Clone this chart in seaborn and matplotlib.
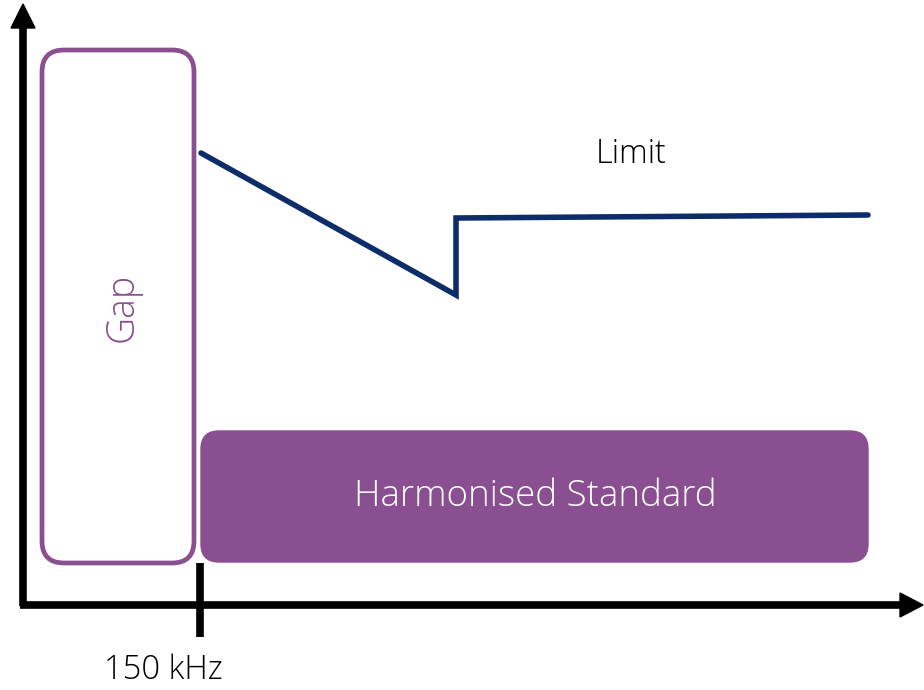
import matplotlib
matplotlib.use("Agg")
import matplotlib.pyplot as plt
from matplotlib.patches import FancyBboxPatch
import seaborn as sns
import pandas as pd

# Data (diagram units: x = frequency position, y = level, top = 0)
limit_x = [201, 456, 456, 868]
limit_y = [153, 295, 218, 215]
tick_label = "150 kHz"
tick_pos = 200
gap_label = "Gap"
std_label = "Harmonised Standard"
limit_label = "Limit"

PURPLE = "#8A4F91"
NAVY = "#0C2C6A"

sns.set_theme(style="white")
plt.rcParams["font.family"] = ["Open Sans", "DejaVu Sans"]

fig = plt.figure(figsize=(9.24, 6.9), dpi=100)
ax = fig.add_axes([0, 0, 1, 1])

# Limit line
df = pd.DataFrame({"x": limit_x, "y": limit_y})
sns.lineplot(data=df, x="x", y="y", sort=False, estimator=None, errorbar=None,
             color=NAVY, lw=4, ax=ax, zorder=4)
ax.lines[-1].set_solid_joinstyle("miter")
ax.axis("off")
ax.set_xlim(0, 924)
ax.set_ylim(690, 0)

# Gap box
ax.add_patch(FancyBboxPatch((42 + 22, 50 + 22), 152 - 44, 513 - 44,
                            boxstyle="round,pad=22", fc="white", ec=PURPLE, lw=3.4, zorder=2))
# Harmonised standard box
ax.add_patch(FancyBboxPatch((201 + 18, 431 + 18), 667 - 36, 131 - 36,
                            boxstyle="round,pad=18", fc=PURPLE, ec=PURPLE, lw=1, zorder=2))

# Axes arrows
ax.plot([23, 23], [606, 26], color="black", lw=5.5, solid_capstyle="butt", zorder=3)
ax.fill([11, 35, 23], [28, 28, 4], color="black", zorder=3)
ax.plot([20, 902], [605, 605], color="black", lw=5.5, solid_capstyle="butt", zorder=3)
ax.fill([900, 900, 923], [593, 617, 605], color="black", zorder=3)
# tick
ax.plot([tick_pos, tick_pos], [563, 637], color="black", lw=5.5, solid_capstyle="butt", zorder=3)

# Texts
ax.text(122, 307, gap_label, rotation=90, ha="center", va="center", color=PURPLE,
        fontsize=27, fontweight="light", zorder=5)
ax.text(535, 497, std_label, ha="center", va="center", color="white",
        fontsize=26.5, fontweight="light", zorder=5)
ax.text(631, 154, limit_label, ha="center", va="center", color="black",
        fontsize=23.5, fontweight="light", zorder=5)
ax.text(163, 670, tick_label, ha="center", va="center", color="black",
        fontsize=23.5, fontweight="light", zorder=5)

fig.savefig("out.png", dpi=100)
